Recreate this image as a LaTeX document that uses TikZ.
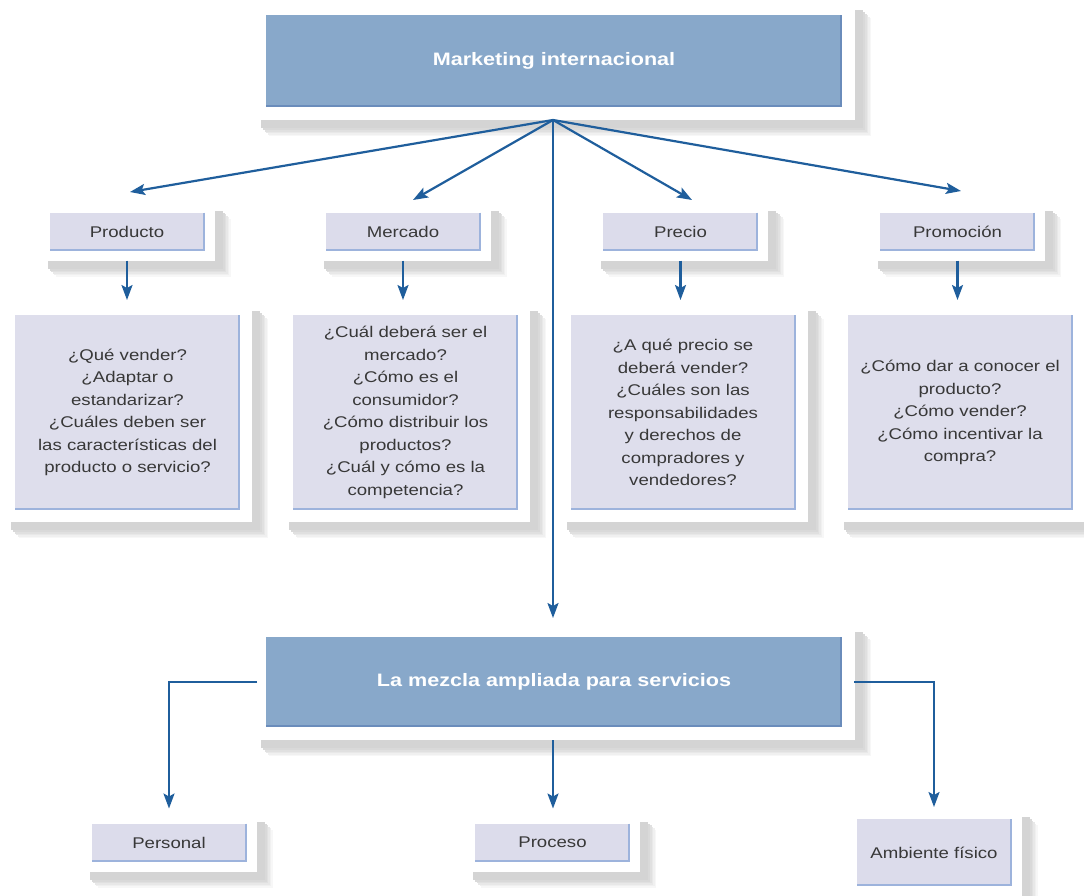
\documentclass[tikz,border=0pt]{standalone}
\usepackage{fontspec}
\setmainfont{Liberation Sans}[FakeStretch=1.2]
\usetikzlibrary{arrows.meta,shadows}
\definecolor{bigfill}{HTML}{88A8CA}
\definecolor{bigedge}{HTML}{6A8CBB}
\definecolor{smallfill}{HTML}{DCDCEB}
\definecolor{smalledge}{HTML}{9DB3DC}
\definecolor{qfill}{HTML}{DEDEEC}
\definecolor{txt}{HTML}{383838}
\definecolor{arrowc}{HTML}{1F5E9C}
\tikzset{
  card/.style n args={3}{rectangle, fill=white, inner sep=0pt, outer sep=0pt, align=center,
    general shadow={fill=black!3, shadow xshift=16pt, shadow yshift=-16pt},
    general shadow={fill=black!6, shadow xshift=14.5pt, shadow yshift=-14.5pt},
    general shadow={fill=black!9, shadow xshift=13pt, shadow yshift=-13pt},
    general shadow={fill=black!12, shadow xshift=11.5pt, shadow yshift=-11.5pt},
    general shadow={fill=black!15, shadow xshift=10pt, shadow yshift=-10pt},
    general shadow={fill=black!17, shadow xshift=8pt, shadow yshift=-8pt},
    path picture={
      \fill[#1] ([shift={(#3,#3)}]path picture bounding box.south west) rectangle ([shift={(-#3,-#3)}]path picture bounding box.north east);
      \draw[#2, line width=2pt] ([shift={(-#3-1pt,-#3)}]path picture bounding box.north east) -- ([shift={(-#3-1pt,#3+1pt)}]path picture bounding box.south east) -- ([shift={(#3,#3+1pt)}]path picture bounding box.south west);
    }},
  bigcard/.style={card={bigfill}{bigedge}{13pt}, minimum width=602pt, minimum height=118pt,
    text=white, font=\fontsize{18}{22}\selectfont\bfseries},
  headcard/.style={card={smallfill}{smalledge}{10pt}, minimum width=175pt, minimum height=58pt,
    text=txt, font=\fontsize{15.5}{22.5}\selectfont},
  qcard/.style={card={qfill}{smalledge}{12pt}, minimum width=249pt, minimum height=219pt,
    text=txt, font=\fontsize{15.5}{22.5}\selectfont},
  conn/.style={draw=arrowc, line width=2.2pt, -{Stealth[length=15pt,width=11pt,inset=3pt]}}
}
\begin{document}
\begin{tikzpicture}[x=1pt,y=-1pt]
\useasboundingbox[fill=white] (0,0) rectangle (1084,895);
% main boxes
\node[bigcard] (mi) at (554,61) {Marketing internacional};
\node[bigcard, minimum height=116pt] (mix) at (554,682) {La mezcla ampliada para servicios};
% heads
\node[headcard] (prod) at (127,231.5) {Producto};
\node[headcard] (merc) at (403,231.5) {Mercado};
\node[headcard] (prec) at (680.5,231.5) {Precio};
\node[headcard] (prom) at (957.5,231.5) {Promoción};
% question boxes
\node[qcard] (qprod) at (127.5,412.5) {¿Qué vender?\\¿Adaptar o\\estandarizar?\\¿Cuáles deben ser\\las características del\\producto o servicio?};
\node[qcard] (qmerc) at (405.5,412.5) {¿Cuál deberá ser el\\mercado?\\¿Cómo es el\\consumidor?\\¿Cómo distribuir los\\productos?\\¿Cuál y cómo es la\\competencia?};
\node[qcard] (qprec) at (683,412.5) {¿A qué precio se\\deberá vender?\\¿Cuáles son las\\responsabilidades\\y derechos de\\compradores y\\vendedores?};
\node[qcard] (qprom) at (960,412.5) {¿Cómo dar a conocer el\\producto?\\¿Cómo vender?\\¿Cómo incentivar la\\compra?};
% bottom boxes
\node[headcard] (pers) at (169,842.5) {Personal};
\node[headcard] (proc) at (552.5,842.5) {Proceso};
\node[headcard, minimum height=87pt] (amb) at (934,852.5) {Ambiente físico};
% arrow end points
\coordinate (src) at (553,120);
\coordinate (tprod) at (130,192);
\coordinate (tmerc) at (413,200);
\coordinate (tprec) at (692,200);
\coordinate (tprom) at (961,191);
% connectors
\draw[conn] (src) -- (tprod);
\draw[conn] (src) -- (tmerc);
\draw[conn] (src) -- (tprec);
\draw[conn] (src) -- (tprom);
\draw[conn, shorten >=6pt] (src) -- (src |- mix.north);
\draw[conn, shorten >=3pt] (prod.south) -- (qprod.north -| prod.south);
\draw[conn, shorten >=3pt] (merc.south) -- (qmerc.north -| merc.south);
\draw[conn, shorten >=3pt] (prec.south) -- (qprec.north -| prec.south);
\draw[conn, shorten >=3pt] (prom.south) -- (qprom.north -| prom.south);
\draw[conn, shorten >=5pt] ([xshift=4pt]mix.west) -| (pers.north);
\draw[conn, shorten >=5pt] (mix.south -| src) -- (proc.north -| src);
\draw[conn, shorten >=2pt] ([xshift=-1pt]mix.east) -| (amb.north);
\end{tikzpicture}
\end{document}
